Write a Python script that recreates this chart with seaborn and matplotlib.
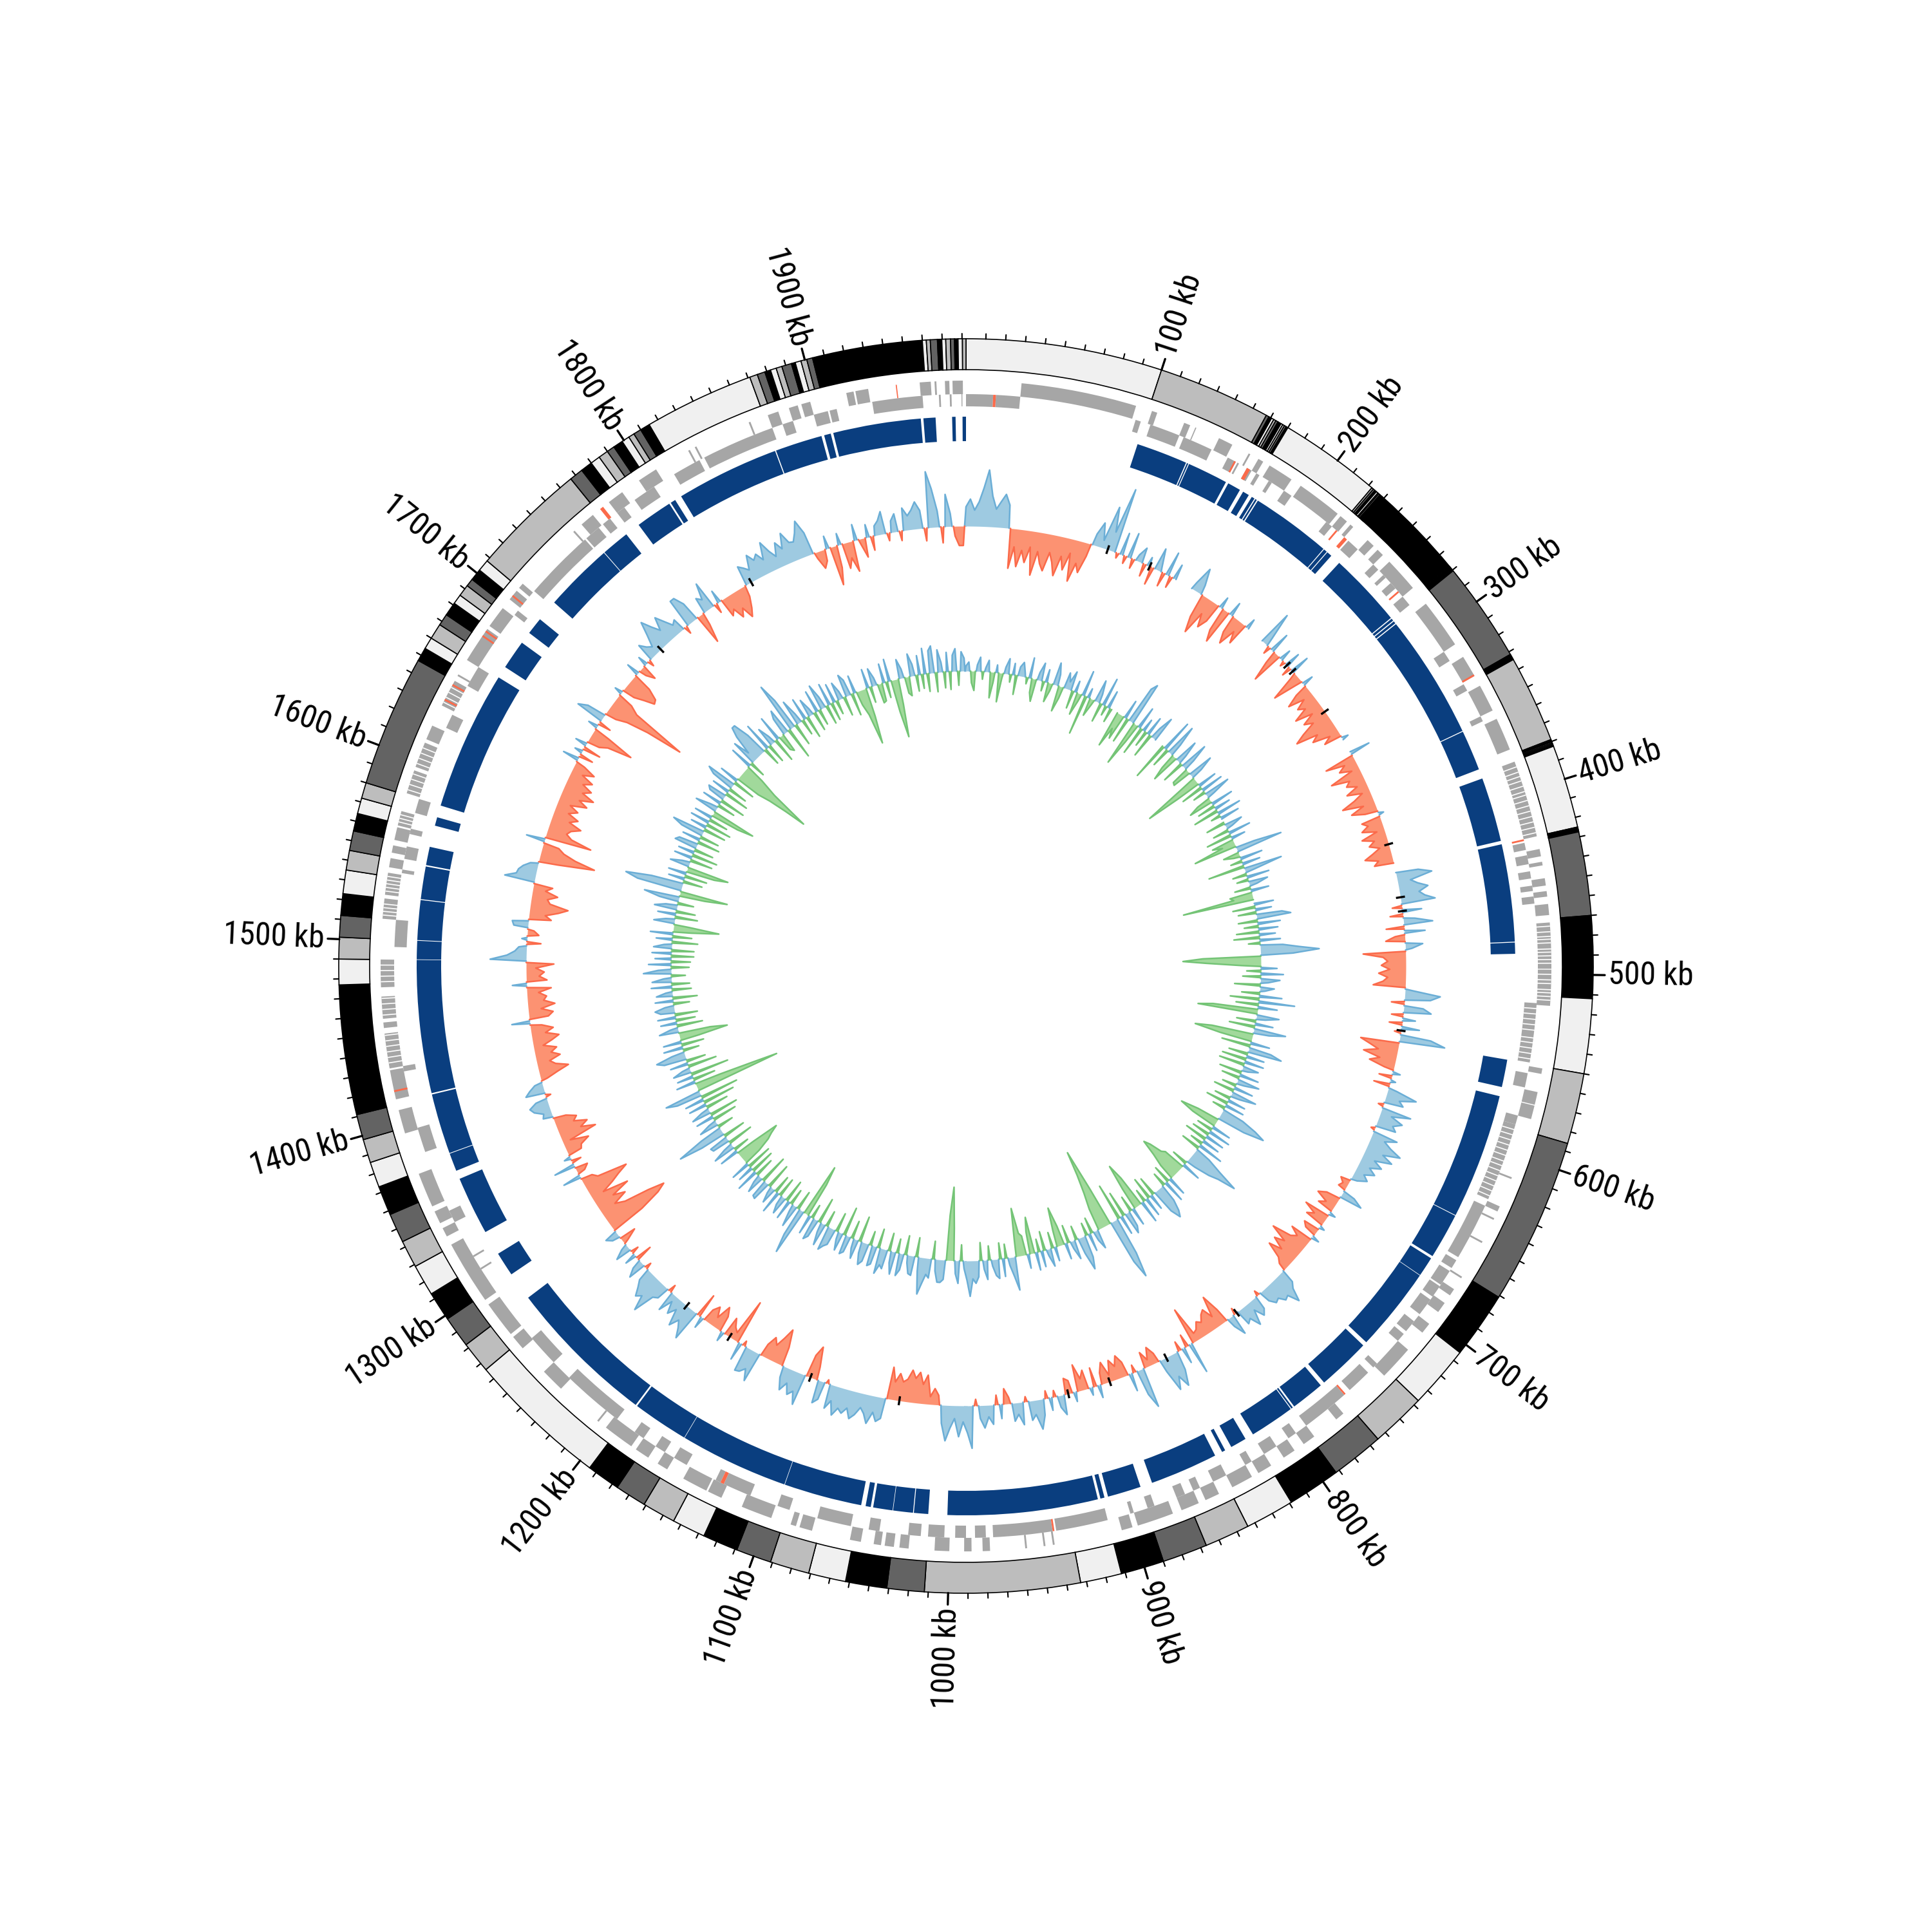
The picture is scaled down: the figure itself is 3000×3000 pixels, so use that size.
import numpy as np
import pandas as pd
import matplotlib
matplotlib.use("Agg")
import matplotlib.pyplot as plt
from matplotlib import font_manager
import seaborn as sns

# genome size and sampling step of the two signal tracks, in kb
GENOME_KB = 1982
STEP_KB = 3

# end of each contig, colours cycle through contig_colors
contig_ends = [100, 157.5, 159, 160.5, 161.8, 163, 164.2, 166, 167, 168, 169, 170,
               222, 223, 224, 225, 226, 226.6, 227.4, 228.5, 229, 229.5, 230,
               277.5, 278, 278.5, 279, 279.5, 280, 280.5,
               331.5, 332, 332.5, 333, 333.5, 334, 334.5,
               379, 379.6, 380.2, 380.8, 381.4, 382, 382.6,
               425, 425.5, 426, 426.5, 427, 427.5, 470, 512, 550, 586, 671, 705, 737, 765,
               792, 819, 844, 867, 890, 912, 933, 1012, 1031, 1052, 1071, 1091, 1109, 1127,
               1144, 1161, 1177, 1194, 1266, 1282, 1298, 1313, 1329, 1343, 1358, 1373, 1386,
               1398, 1411, 1477, 1490, 1501, 1512, 1523, 1535, 1545, 1555, 1564, 1572, 1580,
               1647, 1654, 1660, 1668, 1674, 1681, 1686, 1692, 1696, 1702, 1708, 1767, 1774,
               1780, 1785, 1790, 1794, 1799, 1803, 1806, 1810, 1815, 1871, 1875, 1879, 1882,
               1885, 1888, 1893, 1895, 1898, 1901, 1904, 1960, 1962, 1964, 1967.6, 1969.8,
               1971.8, 1974.2, 1976.2, 1978, 1980.2, 1982]
contig_colors = ["#f0f0f0", "#bdbdbd", "#636363", "#000000"]

forward_genes = [(30, 93), (102, 105), (120.5, 124), (127, 127.6), (141, 149), (159, 160), (165, 168),
                 (172, 186), (192, 217), (219, 223.5), (226, 228), (238.5, 243), (246, 250), (255, 274),
                 (285, 312), (320, 332), (338, 353), (358, 376), (383, 425), (432, 436), (439, 441),
                 (448, 452), (455, 458), (462, 468), (472, 486), (486.6, 497), (497.5, 508), (508.6, 517),
                 (551, 554), (564, 571), (571.5, 579), (612, 613), (629, 632), (636, 637), (650, 651),
                 (672, 673), (680, 684), (689, 695), (703, 709), (721, 740), (770, 775), (790, 797),
                 (803, 810), (818, 826), (830, 842), (850, 858), (862, 872), (877, 897), (900, 906),
                 (943, 944), (948, 949), (958, 959), (978, 982), (988, 992), (1000, 1008), (1022, 1027),
                 (1030, 1035), (1037, 1041), (1048, 1054), (1075, 1082), (1084, 1087), (1098, 1115),
                 (1127, 1135), (1136, 1150), (1160, 1166), (1172, 1180), (1183, 1200), (1205, 1206),
                 (1232, 1245), (1262, 1270), (1272, 1292), (1295, 1330), (1335, 1340), (1343, 1350),
                 (1353, 1372), (1395, 1408), (1414, 1430), (1431, 1450), (1453, 1456), (1458, 1470),
                 (1475, 1490), (1512, 1523), (1525, 1537), (1540, 1545), (1548, 1552), (1555, 1562),
                 (1563, 1571), (1581, 1594), (1596, 1610), (1612, 1620), (1632, 1647), (1650, 1651),
                 (1660, 1680), (1682, 1694), (1700, 1706), (1708, 1711), (1750, 1751), (1756, 1764),
                 (1775, 1784), (1795, 1806), (1826, 1827), (1830, 1831), (1862, 1863), (1873, 1879),
                 (1885, 1890), (1892, 1897), (1917, 1921), (1922, 1929), (1957, 1963), (1965, 1966),
                 (1970.6, 1973), (1974.7, 1980.3)]
reverse_genes = [(0, 15), (16.5, 30), (95, 98), (103.6, 120.6), (123.2, 140), (150, 155), (156, 157),
                 (162, 165), (168, 170), (176, 178), (186, 191), (215, 219), (231, 238), (250, 254),
                 (258, 260), (264, 268), (274, 280), (312, 318), (333, 337), (353, 356), (427, 431),
                 (434, 439), (443, 447), (451, 454), (457, 461), (516, 535), (535.6, 549), (555, 563),
                 (579, 584), (584, 605), (605.6, 628), (632, 664), (666, 671), (673, 682), (683, 690),
                 (692, 702), (707, 714), (716, 721), (738, 741), (745, 759), (763, 790), (797, 802),
                 (810, 818), (826, 830), (842, 850), (858, 862), (867, 872), (885, 889), (897, 899),
                 (912, 941), (943, 976), (980, 986), (991, 997), (1003, 1012), (1016, 1023), (1039, 1045),
                 (1055, 1074), (1090, 1097), (1113, 1129), (1131, 1134), (1152, 1160), (1166, 1172),
                 (1180, 1186), (1198, 1233), (1245, 1263), (1310, 1311), (1318, 1319), (1340, 1347),
                 (1382, 1396), (1428, 1431), (1497, 1512), (1538, 1540), (1546, 1553), (1560, 1563),
                 (1572, 1580), (1622, 1630), (1648, 1660), (1695, 1698), (1712, 1752), (1753, 1762),
                 (1765, 1770), (1775, 1780), (1787, 1800), (1813, 1829), (1832, 1873), (1879, 1885),
                 (1897, 1905), (1906, 1910), (1930, 1958), (1967, 1968), (1973, 1974), (1979.5, 1980)]
forward_red = [(331, 332), (1418, 1419), (1635, 1636), (1644, 1645), (1675, 1676), (1678, 1679),
               (1702, 1703), (1769, 1771), (1944, 1944.6)]
reverse_red = [(15, 16.5), (154, 155), (162, 164), (222, 223), (228, 230), (270, 271), (425, 426),
               (762, 763), (942, 943), (1129, 1131)]
# places where neighbouring genes leave a visible white line
gene_breaks = [386, 389, 391.5, 394, 397, 400, 402, 405, 408, 411, 414, 417, 420, 423,
               474, 477, 479.5, 481, 483, 488, 490, 492, 494, 500, 503, 505, 510, 512, 514,
               519, 522, 525, 528, 531, 538, 541, 544, 547,
               587, 590, 593, 596, 599, 602, 608, 611, 614, 617, 620, 623, 626,
               1434, 1437, 1440, 1443, 1446, 1449, 1460, 1463, 1466, 1469, 1478, 1481, 1484, 1487,
               1514, 1516, 1518, 1520, 1527, 1529, 1531, 1533, 1535,
               1565, 1567, 1569, 1583, 1586, 1589, 1592, 1598, 1601, 1604, 1607, 1634, 1637, 1640, 1643]

mapped_blocks = [(100.2, 130), (130.6, 131.4), (131.9, 155.5), (157, 164.7), (166.8, 170.6), (172.6, 174.4),
                 (175, 176), (176.7, 223.5), (224, 226), (226.5, 229.5), (235.6, 279), (279.6, 281),
                 (281.6, 283), (283.6, 356), (356.5, 380), (385.6, 423), (425, 481.5), (482, 488.5),
                 (549.6, 565.6), (571, 644), (644.4, 671), (672.5, 684), (684.3, 733.5), (736, 767),
                 (769.5, 789), (790, 791), (791.5, 817.6), (822.6, 832), (836, 838), (842.5, 882),
                 (889, 908.5), (910.6, 913), (914.5, 1001.7), (1012.7, 1021), (1021.5, 1033),
                 (1033.3, 1044.6), (1046, 1049), (1051.6, 1097), (1097.3, 1160.6), (1160.9, 1193.5),
                 (1194.5, 1282), (1298.5, 1312.6), (1327, 1361), (1366, 1376.5), (1376.9, 1412),
                 (1412.8, 1490), (1490.3, 1501), (1501.4, 1524.5), (1525, 1544), (1544.8, 1555.5),
                 (1568, 1573), (1580, 1661), (1668, 1685), (1692, 1702), (1714.6, 1755), (1755.4, 1771.7),
                 (1780.6, 1802), (1803, 1806), (1810, 1870), (1870.6, 1898), (1899.6, 1903.5),
                 (1905, 1956), (1957.5, 1964.5), (1974, 1976), (1980, 1982)]

# signal values every 3 kb, one row is 30 kb
gc_content = [
    30, 42, 25, 38, 60, 88, 48, 28, 40, 52,
    36, -62, -28, -58, -32, -50, -25, -68, -30, -48,
    -58, -28, -42, -62, -30, -50, -22, -65, -35, -48,
    -20, 18, 38, 12, 68, 30, 102, -8, 35, -12,
    40, -15, 10, 24, -20, 14, -28, 35, 8, -22,
    38, -18, 24, None, None, None, None, 12, 40, 15,
    -38, -62, -25, -45, -30, 18, -38, -55, 22, -28,
    -45, -18, -35, 16, None, None, None, None, 55, 14,
    -12, 32, -20, -50, 18, -8, 24, -15, 30, -10,
    -48, -12, 17, -20, -40, -15, -32, -22, -45, -18,
    -38, -25, -48, -64, -30, -42, -15, -28, 10, None,
    None, None, 32, -47, -18, -30, -12, -50, -22, -30,
    -15, -35, -12, -28, -50, -18, -40, -20, 8, -30,
    -22, -34, -12, -38, -20, -30, -15, -28, -42, -22,
    -30, None, None, 35, 55, 20, 30, 45, 30, 38,
    53, -15, 30, -20, 18, 45, -28, 32, -15, -30,
    27, 10, -66, -35, -28, -38, -25, -42, -28, -35,
    -50, 12, 55, 40, -20, 30, 43, -18, 20, -20,
    28, -10, 48, 71, -60, -45, -30, -52, -25, -40,
    -15, 12, -20, 8, -25, 14, 47, 22, 30, -8,
    47, 18, 38, 25, 32, -6, 40, 22, 35, 54,
    28, 46, 20, 35, 18, 30, 15, 24, 10, -15,
    -8, -12, 20, 36, -22, -34, -15, -25, 10, -40,
    -20, -30, 8, -25, -18, 12, -35, -20, -28, -58,
    -30, -45, -25, -45, -20, -12, 22, 30, 50, 32,
    35, 25, 28, 18, -8, 22, 30, 14, 37, 20,
    25, -10, 33, 15, -22, -50, -18, -35, -30, -20,
    -25, -15, -12, -58, 49, -20, 25, -15, 30, 54,
    35, 54, 20, -15, -28, -10, -25, 63, 40, -12,
    28, -22, -35, -20, -32, -10, -33, -18, 20, -30,
    12, -30, -18, -42, 15, -20, -25, 31, 18, -10,
    20, -12, 25, 46, 22, 30, -8, 35, 18, 28,
    -10, -24, 22, -15, 30, 18, 35, 20, -10, 66,
    42, 25, 48, 20, 35, 55, 28, -15, -25, -12,
    -45, -30, -48, -38, -50, -35, -30, -42, -28, -50,
    32, 38, 25, 44, 30, 22, 35, 43, 28, 38,
    32, 45, 24, 38, -6, 28, 36, -20, -51, -35,
    49, 30, 38, 22, 36, 18, -30, -57, -40, -25,
    -35, -20, 47, 30, 38, 40, -8, 28, -70, -12,
    -18, -30, 15, -25, -38, -15, -30, -20, 18, -38,
    49, 35, 25, 40, 15, 28, 10, 32, -12, 20,
    25, 58, 35, 42, 30, 20, -10, 28, 15, -26,
    18, -12, 25, 10, -8, -26, 12, 20, -55, -90,
    -105, -80, -40, -25, -48, -30, -60, -20, -40, -55,
    -72, -25, -18, 28, -12, -20, 33, -15, 10, -22,
    -25, -40, -12, -57, -35, -48, -28, -35, -20, 15,
    12, 25, 30, 18, -8, 30, 22, 12, -10, -28,
    -47, -28, -20, -38, -25, -35, -15, -30, -42, -22,
    -35, -18, 28, -30, -38, -20, -42, -25, -30, -18,
    -38, 22, -32, -20, -28, -15, -43, 56, 30, 18,
    12, -22, 8, -18, -10, 22, 25, -35, -25, -45,
    -59, -30, -25, -40, -20, -30, 47, 30, 28, 22,
    12, -30, -87, -55, -35, -25, 29, -73, -40, -30,
    -35, -49, -28, -40, -22, -35, -20, -45, -30, -51,
    -30, -42, -25, -38, -18, -35, -15, 25, -22, 12,
    -28, 18, -20, -32, -70, -25, 15, -20, 44, 30,
    -18, -35, -70, -128, -40, -25, 12, -20, -35, -51,
    -48, -30, 20, -12, -25, 15, -10, 28, 18, 12,
    30, 51, 35, 22, 42, 28, 15, 20, -12, 46,
    46, 30, -48, -20, 25, 18, 43, -15, 20, -30,
    -22, -40, -28, -47, -35, -18, 31, 25, 18, 40,
    28, 35, 22, 48, 30, 18, 38, 25, 48, 30,
    28, 40, 57, 35, -10, -28, -18, 20, -61, -35,
    18, -40, -25, -48, 25, -8, -30, 20, -22, 15,
    22, 35, -12, 18, 28, -15, 35, 22, 30, 42,
    28, -20, 87, 60, 25, -25, 50, 20, -15, -30,
    -30,
]
gc_skew = [
    8, 14, -18, -30, 10, 22, -12, 6, 18, -40,
    -15, 12, -45, -8, 10, 24, -12, 18, -30, 14,
    22, 6, -10, 32, -22, -35, 12, 28, -15, 20,
    -30, -12, 35, 18, -40, -18, 25, 12, 30, -28,
    18, -35, -12, 40, -62, 15, -28, -8, 35, 14,
    -30, 45, -15, 28, -22, None, None, -57, -25, -40,
    30, -40, 59, 69, -72, -30, 35, -45, 20, -25,
    30, -38, 18, 40, None, None, None, -60, 51, -30,
    51, 20, -25, -45, 38, 14, -35, 45, 18, -28,
    -30, 40, 18, -25, -92, -40, 30, -35, 35, -20,
    41, 12, -22, -38, 35, -28, 25, -40, 38, -15,
    30, None, -30, 28, 10, -25, 35, -40, 22, -35,
    -20, -68, 30, 73, -25, -10, 35, -18, 28, -57,
    60, 15, -22, 35, -18, 30, 12, -25, 28, -35,
    -30, -111, None, 30, -35, 25, -28, 40, 53, -30,
    35, -22, 30, -35, 25, -40, 32, -18, 35, 60,
    91, 50, -90, -121, -85, -30, 25, -22, 35, -28,
    30, 12, -40, 22, 8, -28, 35, -45, 56, -35,
    30, -70, -93, 35, 14, -30, 28, -40, 50, 25,
    -65, -91, -50, 30, -45, 35, 53, -30, 28, -38,
    30, -40, 25, 10, -35, 30, -28, 35, 12, -22,
    30, -32, 40, 15, -25, 28, -35, 30, -20, 35,
    60, 77, 45, -35, -63, -40, 30, -25, 35, -28,
    30, -35, 28, -20, 40, -30, 25, 50, 83, 55,
    40, 15, -25, 30, -35, -40, -60, -70, -45, -25,
    30, -28, 35, -22, 28, 45, 54, 38, -30, 25,
    -35, 30, -20, 35, -50, -75, -35, 28, -25, 25,
    35, -40, 30, -58, 60, 98, 70, -60, -128, -90,
    -60, -35, 30, 15, -25, 28, -20, 35, 53, 25,
    -22, 30, 12, -28, 25, -30, -61, -25, 22, -25,
    28, 10, -30, 25, -20, 28, -57, -35, 22, -30,
    -35, -75, -25, 52, 30, 12, -22, 28, -25, 30,
    25, 10, -22, 30, 14, -28, 25, 35, 28, 55,
    30, 12, -25, 35, 20, -50, -114, -70, 30, 35,
    35, 18, -28, 30, 25, 40, 57, 22, -30, 30,
    28, 12, -30, 25, 35, -22, 35, 18, -28, 30,
    25, 40, -30, 28, 32, -22, 28, 35, 18, -40,
    30, 15, -28, 25, 30, -45, 28, 12, -30, 25,
    30, 38, -25, 35, 15, -40, 28, 35, -22, 30,
    -55, -84, 74, 45, -30, 35, 12, -25, 30, -35,
    28, 15, -30, 35, -28, 25, 10, -40, 30, 28,
    -45, 28, 12, -30, 35, -38, 25, -40, 30, -28,
    -50, -60, -73, -30, 30, -25, 35, 14, -40, 28,
    30, -35, 40, 77, 35, -25, 30, 12, -38, 28,
    -45, 30, 12, -35, 28, -50, 30, -60, 40, 57,
    -134, -95, -40, 30, -35, 25, -60, 28, 12, -45,
    28, -30, 35, 46, 20, -25, 30, -35, 28, -30,
    -76, -50, 30, 12, -40, 25, -30, 28, -35, 22,
    30, 14, -25, 28, -38, 25, 10, -30, 32, -28,
    30, 12, -22, 43, 20, -28, 35, -30, 25, -35,
    30, -35, 28, 12, -40, 25, -30, 35, -28, -71,
    -25, 32, 14, -35, 28, -30, 35, 18, -25, 30,
    55, -40, -75, 70, 90, 50, -30, 25, -35, 28,
    -45, -66, 30, 12, -35, 28, -40, 25, -30, 35,
    30, -35, 28, -30, 35, 51, -35, 25, -40, 30,
    -30, 28, -45, -70, 35, 12, -28, 30, -40, 25,
    30, -38, 28, -30, 35, 47, -35, 30, -40, -60,
    -90, -123, -60, -30, 35, -25, 40, 15, 45, 60,
    60, 35, -28, 45, -30, 30, 12, -38, 40, -25,
    -30, 28, 40, -50, 79, 50, -35, 40, 15, -25,
    35, -35, 28, 10, -30, 35, -25, 40, 18, -30,
    35, -28, 30, -22, 28, 12, -30, 35, 25, -35,
    28, -22, -40, -88, -45, 30, -25, 28, 12, -30,
    -28, 30, -25, 35, -50, -91, -40, 30, 14, -25,
    -30, 35, 18, -25, 30, -22, 40, -28, 35, 42,
    -30, 35, 15, -25, 30, -28, 25, 35, -22, 30,
    20,
]
# short black marks in the GC content track: position in kb
black_marks = [103.5, 136, 258, 264, 301, 407, 446, 456, 542, 782, 842, 886, 917, 1039, 1105, 1170,
               1208, 1740, 1821]
major_labels = [f"{kb} kb" for kb in range(100, 2000, 100)]


def kb_to_rad(kb):
    return np.deg2rad(np.asarray(kb, dtype=float) / GENOME_KB * 360)


def draw_intervals(ax, intervals, r_in, r_out, color):
    starts = np.array([s for s, e in intervals])
    ends = np.array([e for s, e in intervals])
    ax.bar(kb_to_rad(starts), r_out - r_in, width=kb_to_rad(ends - starts), bottom=r_in,
           align="edge", color=color, linewidth=0)


def side_runs(kb, side, foot=1.0):
    # runs of same sign values, each closed down to the baseline right next to its ends
    rows = []
    seg = 0
    for i, val in enumerate(side):
        if val == 0:
            continue
        if i == 0 or side[i - 1] == 0:
            seg += 1
            rows.append((kb[i] - foot, 0.0, seg))
        rows.append((kb[i], val, seg))
        if i == len(side) - 1 or side[i + 1] == 0:
            rows.append((kb[i] + foot, 0.0, seg))
    return pd.DataFrame(rows, columns=["kb", "value", "seg"])


def draw_side(ax, kb, side, base, fill, line):
    df = side_runs(kb, side)
    df["x"] = kb_to_rad(df["kb"])
    df["r"] = base + df["value"]
    for _, run in df.groupby("seg"):
        ax.fill_between(run["x"], base, run["r"], color=fill, linewidth=0)
    sns.lineplot(data=df, x="x", y="r", units="seg", estimator=None, sort=False, ax=ax,
                 color=line, linewidth=0.6, legend=False)


def draw_signal(ax, values, base, pos_colors, neg_colors):
    vals = np.nan_to_num(np.array(values, dtype=float))
    kb = np.arange(len(vals)) * STEP_KB
    draw_side(ax, kb, np.where(vals < 0, 0, vals), base, *pos_colors)
    draw_side(ax, kb, np.where(vals > 0, 0, vals), base, *neg_colors)


sns.set_theme(style="white")
installed = {f.name for f in font_manager.fontManager.ttflist}
label_font, label_size = ("Roboto Condensed", 12) if "Roboto Condensed" in installed else ("Liberation Sans", 10.5)
plt.rcParams["font.family"] = [label_font, "DejaVu Sans"]

fig = plt.figure(figsize=(10, 10), dpi=300)
ax = fig.add_axes([0, 0, 1, 1], projection="polar")
ax.set_theta_zero_location("N")
ax.set_theta_direction(-1)

# outer contig ring
starts = np.array([0] + contig_ends[:-1])
ends = np.array(contig_ends)
colors = [contig_colors[i % 4] for i in range(len(contig_ends))]
ax.bar(kb_to_rad(starts), 48, width=kb_to_rad(ends - starts), bottom=926, align="edge",
       color=colors, edgecolor="black", linewidth=0.4)

# ticks and labels
for kb in range(10, GENOME_KB, 10):
    th = float(kb_to_rad(kb))
    major = kb % 100 == 0
    ax.plot([th, th], [974, 992 if major else 982], color="black", linewidth=0.8 if major else 0.5)
for kb, label in zip(range(100, 2000, 100), major_labels):
    deg = kb / GENOME_KB * 360
    right = deg < 180
    ax.text(float(kb_to_rad(kb)), 997, label, rotation=90 - deg if right else 270 - deg, color="black",
            rotation_mode="anchor", ha="left" if right else "right", va="center", fontsize=label_size)

# gene tracks and mapped blocks
draw_intervals(ax, forward_genes, 888, 909, "#a6a6a6")
draw_intervals(ax, reverse_genes, 869, 888, "#a6a6a6")
draw_intervals(ax, forward_red, 888, 909, "#fb6a4a")
draw_intervals(ax, reverse_red, 869, 888, "#fb6a4a")
ax.vlines(kb_to_rad(gene_breaks), 869, 909, color="white", linewidth=0.4)
draw_intervals(ax, mapped_blocks, 815, 853, "#0a3e7f")

# GC content and GC skew
draw_signal(ax, gc_content, 683, ("#9ecae1", "#6baed6"), ("#fc9272", "#fb6a4a"))
draw_signal(ax, gc_skew, 458, ("#9ecae1", "#6baed6"), ("#a1d99b", "#74c476"))
ax.vlines(kb_to_rad(black_marks), 676, 690, color="black", linewidth=0.8)

ax.set_xlim(0, 2 * np.pi)
ax.set_ylim(0, 1500)
ax.axis("off")
fig.savefig("out.png", dpi=300)
